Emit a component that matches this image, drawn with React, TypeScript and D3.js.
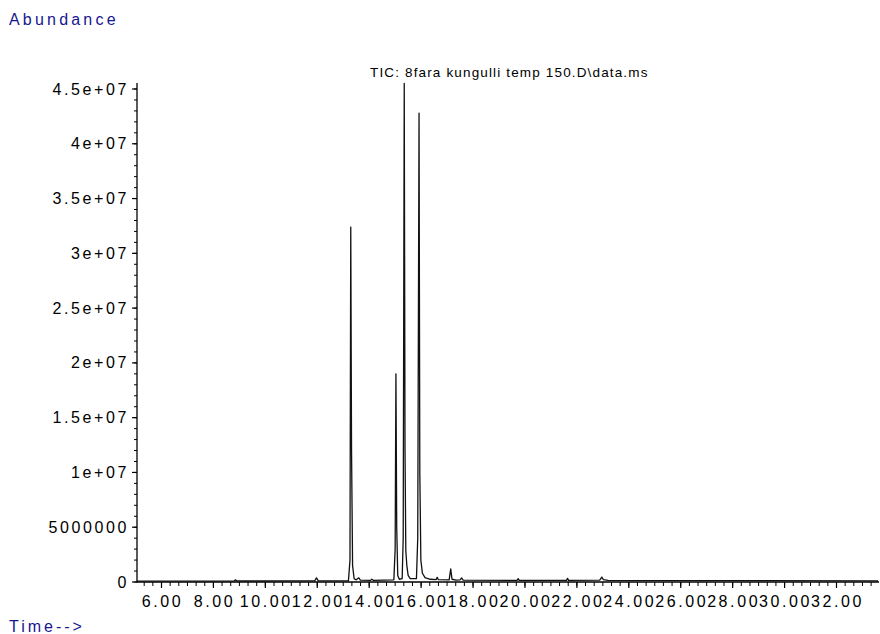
import React from "react";
import * as d3 from "d3";

const W = 880;
const H = 634;

const titleText = "TIC: 8fara kungulli temp 150.D\\data.ms";
const yLabelText = "Abundance";
const xLabelText = "Time-->";

const yTickValues = [0, 5e6, 1e7, 1.5e7, 2e7, 2.5e7, 3e7, 3.5e7, 4e7, 4.5e7];
const yTickLabels = ["0", "5000000", "1e+07", "1.5e+07", "2e+07", "2.5e+07", "3e+07", "3.5e+07", "4e+07", "4.5e+07"];
const xTickValues = [6, 8, 10, 12, 14, 16, 18, 20, 22, 24, 26, 28, 30, 32];
const xTickLabels = ["6.00", "8.00", "10.00", "12.00", "14.00", "16.00", "18.00", "20.00", "22.00", "24.00", "26.00", "28.00", "30.00", "32.00"];

// TIC trace: retention time (min), abundance
const traceTime = [
  5.05, 8.8, 8.85, 8.9, 11.9, 11.97, 12.04,
  13.2, 13.26, 13.29, 13.32, 13.36, 13.42, 13.5, 13.6, 13.66,
  14.05, 14.1, 14.16,
  14.95, 15.0, 15.03, 15.06, 15.1, 15.16,
  15.27, 15.31, 15.35, 15.38, 15.41, 15.45, 15.5, 15.58,
  15.82, 15.87, 15.92, 15.95, 15.99, 16.05, 16.15, 16.35,
  16.58, 16.62, 16.66,
  17.08, 17.14, 17.19, 17.35, 17.5, 17.56, 17.62,
  19.7, 19.74, 19.78,
  21.6, 21.64, 21.68,
  22.88, 22.96, 23.02, 23.2,
  33.6,
];
const traceAbundance = [
  80000, 90000, 200000, 90000, 100000, 380000, 100000,
  100000, 2.0e6, 3.24e7, 1.2e7, 1.5e6, 300000, 200000, 380000, 180000,
  150000, 260000, 150000,
  200000, 3.0e6, 1.9e7, 5.0e6, 600000, 250000,
  300000, 4.0e6, 4.55e7, 1.2e7, 2.9e6, 1.5e6, 600000, 300000,
  300000, 4.0e6, 4.28e7, 1.0e7, 2.0e6, 800000, 400000, 250000,
  220000, 420000, 220000,
  200000, 1.2e6, 250000, 180000, 200000, 380000, 180000,
  150000, 300000, 150000,
  150000, 330000, 150000,
  170000, 450000, 220000, 150000,
  100000,
];

const BLUE = "#16168f";
const FONT = "'Liberation Sans', Arial, sans-serif";

export default function App() {
  const x = d3.scaleLinear().domain([6, 32]).range([161.5, 836.5]);
  const y = d3.scaleLinear().domain([0, 4.5e7]).range([582, 89]);
  const x0 = x.invert(137);
  const x1 = x.invert(879);

  const minorX: number[] = [];
  for (let i = 0; ; i++) {
    const v = 5 + i / 3;
    if (v > x1) break;
    if (v >= x0 - 0.01) minorX.push(v);
  }
  const minorY: number[] = [];
  for (let v = 0; v <= 4.5e7 + 1; v += 1e6) minorY.push(v);

  const pts: [number, number][] = traceTime.map((t, i) => [t, traceAbundance[i]]);
  const line = d3
    .line<[number, number]>()
    .x((d) => x(d[0]))
    .y((d) => y(d[1]));

  return (
    <svg width={W} height={H} style={{ position: "absolute", left: 0, top: 0, background: "#fff" }}>
      <rect x={0} y={0} width={W} height={H} fill="#fff" />
      <text x={9} y={25} fill={BLUE} fontFamily={FONT} fontSize={16} letterSpacing={3.2}>
        {yLabelText}
      </text>
      <text x={9} y={632} fill={BLUE} fontFamily={FONT} fontSize={16} letterSpacing={3.0}>
        {xLabelText}
      </text>
      <text x={370} y={77} fill="#000" fontFamily={FONT} fontSize={13.5} letterSpacing={1.15}>
        {titleText}
      </text>

      {/* y axis */}
      <line x1={137} x2={137} y1={83} y2={582.5} stroke="#000" strokeWidth={1.3} />
      {minorY.map((v, i) => (
        <line key={"my" + i} x1={134} x2={137} y1={y(v)} y2={y(v)} stroke="#000" strokeWidth={1} />
      ))}
      {yTickValues.map((v, i) => (
        <g key={"y" + i}>
          <line x1={132} x2={137} y1={y(v)} y2={y(v)} stroke="#000" strokeWidth={1.2} />
          <text
            x={129}
            y={y(v) + 5.5}
            textAnchor="end"
            fill="#000"
            fontFamily={FONT}
            fontSize={16}
            letterSpacing={2.6}
          >
            {yTickLabels[i]}
          </text>
        </g>
      ))}

      {/* x axis */}
      <line x1={137} x2={879} y1={582} y2={582} stroke="#000" strokeWidth={1.3} />
      {minorX.map((v, i) => (
        <line key={"mx" + i} x1={x(v)} x2={x(v)} y1={582} y2={586} stroke="#000" strokeWidth={1} />
      ))}
      {xTickValues.map((v, i) => (
        <g key={"x" + i}>
          <line x1={x(v)} x2={x(v)} y1={582} y2={588} stroke="#000" strokeWidth={1.2} />
          <rect x={x(v) - xTickLabels[i].length * 5.15} y={593} width={xTickLabels[i].length * 10.3} height={16} fill="#fff" />
          <text
            x={x(v) + 1}
            y={607}
            textAnchor="middle"
            fill="#000"
            fontFamily={FONT}
            fontSize={16}
            letterSpacing={2.6}
          >
            {xTickLabels[i]}
          </text>
        </g>
      ))}

      <path d={line(pts) || ""} fill="none" stroke="#111" strokeWidth={1.3} strokeLinejoin="round" />
    </svg>
  );
}
